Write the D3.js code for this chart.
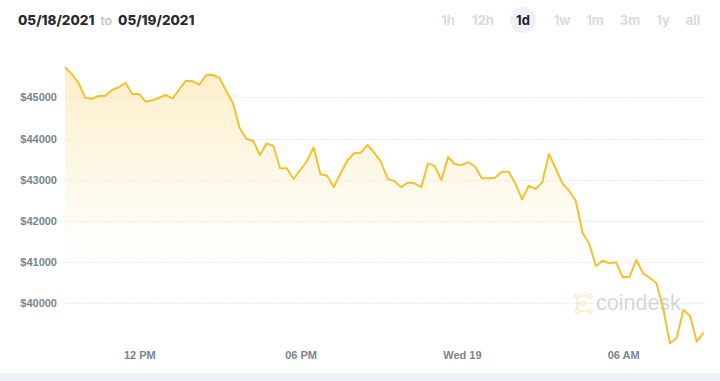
<!DOCTYPE html>
<html><head><meta charset="utf-8">
<script src="https://cdn.jsdelivr.net/npm/d3@7"></script>
<style>
html,body{margin:0;padding:0;background:#fff;}
svg{display:block;}
</style></head>
<body>
<svg id="chart" width="720" height="381"></svg>
<script>
// ---- data ----
const startTime = "2021-05-18T09:13:00";
const stepMinutes = 15;
const prices = [
45728,45566,45354,44990,44966,45032,45039,45177,45243,45354,
45080,45080,44893,44927,44990,45056,44966,45194,45403,45388,
45306,45541,45541,45468,45150,44854,44248,43988,43947,43600,
43883,43825,43276,43276,43017,43235,43454,43786,43131,43098,
42823,43155,43462,43641,43656,43843,43656,43437,43020,42970,
42820,42930,42913,42820,43390,43335,42993,43550,43374,43357,
43422,43320,43034,43034,43049,43194,43194,42913,42524,42854,
42774,42937,43624,43277,42913,42733,42483,41714,41439,40905,
41034,40971,40995,40631,40646,41051,40728,40621,40485,39879,
39029,39150,39837,39692,39068,39286
];
const yTicks = [40000,41000,42000,43000,44000,45000];
const xTickTimes = ["2021-05-18T12:00:00","2021-05-18T18:00:00","2021-05-19T00:00:00","2021-05-19T06:00:00"];
const xTickLabels = ["12 PM","06 PM","Wed 19","06 AM"];
const rangeButtons = ["1h","12h","1d","1w","1m","3m","1y","all"];
const activeRange = "1d";
const dateFrom = "05/18/2021", dateTo = "05/19/2021";

// ---- build ----
const t0 = new Date(startTime).getTime();
const data = prices.map((v,i)=>({t:new Date(t0 + i*stepMinutes*60000), v}));

const svg = d3.select("#chart");
const x = d3.scaleTime().domain(d3.extent(data,d=>d.t)).range([65,703.5]);
const y = d3.scaleLinear().domain([40000,45000]).range([303.3,97.3]);

// bottom band
svg.append("rect").attr("x",0).attr("y",373).attr("width",720).attr("height",8).attr("fill","#eef2f8");

// gradient
const defs = svg.append("defs");
const grad = defs.append("linearGradient").attr("id","fillGrad")
  .attr("gradientUnits","userSpaceOnUse").attr("x1",0).attr("x2",0).attr("y1",67).attr("y2",300);
grad.append("stop").attr("offset",0).attr("stop-color","#fbe3a0").attr("stop-opacity",0.6);
grad.append("stop").attr("offset",0.6).attr("stop-color","#fbe8b5").attr("stop-opacity",0.2);
grad.append("stop").attr("offset",1).attr("stop-color","#ffffff").attr("stop-opacity",0);

// gridlines
svg.append("g").selectAll("line").data(yTicks).join("line")
  .attr("x1",65).attr("x2",705)
  .attr("y1",d=>Math.round(y(d))+0.5).attr("y2",d=>Math.round(y(d))+0.5)
  .attr("stroke","#eaecf3").attr("stroke-width",1).attr("stroke-dasharray","2,1");

// y labels
svg.append("g").selectAll("text").data(yTicks).join("text")
  .attr("x",57).attr("y",d=>y(d)+4)
  .attr("text-anchor","end")
  .attr("font-family","Liberation Sans, Arial, sans-serif").attr("font-size",11).attr("font-weight",700)
  .attr("fill","#7e838e").text(d=>"$"+d);

// x labels
svg.append("g").selectAll("text").data(xTickTimes).join("text")
  .attr("x",d=>x(new Date(d))).attr("y",359)
  .attr("text-anchor","middle")
  .attr("font-family","Liberation Sans, Arial, sans-serif").attr("font-size",11).attr("font-weight",700)
  .attr("fill","#7e838e").text((d,i)=>xTickLabels[i]);

// area
const area = d3.area().x(d=>x(d.t)).y0(y(38700)).y1(d=>y(d.v));
svg.append("path").datum(data).attr("d",area).attr("fill","url(#fillGrad)");

// watermark
const wm = svg.append("g").attr("opacity",0.5);
wm.append("path").attr("d","M577,296 H590 M577,296 V311 M577,303.5 H583 M577,311 H590")
  .attr("stroke","#f6dc8f").attr("stroke-width",1.5).attr("fill","none");
[[577,296],[590,296],[577,311],[590,311],[583,303.5]].forEach(p=>{
  wm.append("circle").attr("cx",p[0]).attr("cy",p[1]).attr("r",2.2).attr("fill","#fff").attr("stroke","#f6dc8f").attr("stroke-width",1.3);
});
wm.append("text").attr("x",596).attr("y",310)
  .attr("font-family","Liberation Sans, Arial, sans-serif").attr("font-size",21.5)
  .attr("fill","#aeb2bd").text("coindesk");

// line
const line = d3.line().x(d=>x(d.t)).y(d=>y(d.v));
svg.append("path").datum(data).attr("d",line)
  .attr("fill","none").attr("stroke","#f3c230").attr("stroke-width",2).attr("stroke-linejoin","round");

// header dates
const hdr = svg.append("text").attr("x",18).attr("y",25)
  .attr("font-family","Inter, Liberation Sans, sans-serif").attr("font-size",13.5).attr("font-weight",800)
  .attr("fill","#262b36");
hdr.append("tspan").text(dateFrom);
hdr.append("tspan").attr("dx",6).attr("font-weight",500).attr("fill","#b9bcc4").attr("font-size",12.5).text("to");
hdr.append("tspan").attr("dx",6).text(dateTo);

// range buttons
const btnX = [448,483,523,562,595,630,663,693];
svg.append("circle").attr("cx",523).attr("cy",20).attr("r",13).attr("fill","#eef1f6");
svg.append("g").selectAll("text").data(rangeButtons).join("text")
  .attr("x",(d,i)=>btnX[i]).attr("y",25)
  .attr("text-anchor","middle")
  .attr("font-family","Inter, Liberation Sans, sans-serif").attr("font-size",13).attr("font-weight",700)
  .attr("fill",d=>d===activeRange?"#1e222b":"#d7dae0").text(d=>d);
</script>
</body></html>
